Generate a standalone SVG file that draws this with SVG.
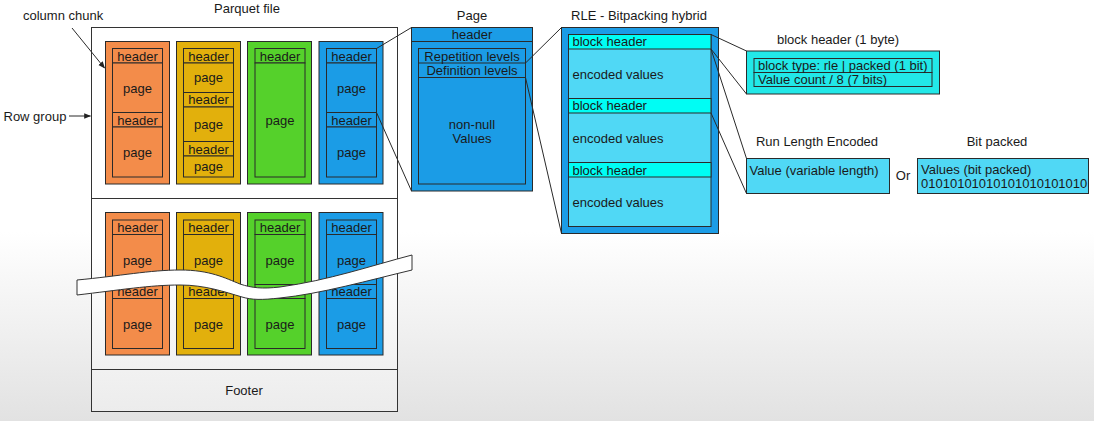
<svg xmlns="http://www.w3.org/2000/svg" width="1094" height="421" viewBox="0 0 1094 421">
<defs>
<linearGradient id="bg" x1="0" y1="0" x2="0" y2="421" gradientUnits="userSpaceOnUse">
<stop offset="0" stop-color="#ffffff"/>
<stop offset="0.55" stop-color="#ffffff"/>
<stop offset="1" stop-color="#e2e2e2"/>
</linearGradient>
<linearGradient id="fileBg" x1="0" y1="0" x2="0" y2="421" gradientUnits="userSpaceOnUse">
<stop offset="0" stop-color="#ffffff"/>
<stop offset="0.6" stop-color="#ffffff"/>
<stop offset="1" stop-color="#ebebeb"/>
</linearGradient>
<marker id="arr" viewBox="0 0 10 10" refX="9" refY="5" markerWidth="7" markerHeight="7" orient="auto-start-reverse" markerUnits="userSpaceOnUse">
<path d="M0,1 L10,5 L0,9 Z" fill="#222"/>
</marker>
</defs>
<style>
text { font-family: "Liberation Sans", Arial, sans-serif; font-size: 13px; fill: #1a1a1a; }
.c { text-anchor: middle; }
.box { stroke: #2a2a2a; stroke-width: 1; }
.orange { fill: #f38c4a; }
.yellow { fill: #e2b00c; }
.green { fill: #55d12b; }
.blue { fill: #1b9ce6; }
.light { fill: #50d8f5; }
.cyan { fill: #00fdf4; }
.cyan2 { fill: #22e8e8; }
.ln { stroke: #2a2a2a; stroke-width: 1; fill: none; }
</style>
<rect x="0" y="0" width="1094" height="421" fill="url(#bg)"/>

<g id="parquet-file">
<rect x="91.5" y="27.5" width="306" height="384" fill="url(#fileBg)" stroke="#333" stroke-width="1"/>
<line x1="91.5" y1="198.5" x2="397.5" y2="198.5" stroke="#333"/>
<line x1="91.5" y1="369.5" x2="397.5" y2="369.5" stroke="#333"/>
<text x="247" y="13" class="c">Parquet file</text>
<text x="244" y="395" class="c">Footer</text>
</g>

<g id="row-group-1">
<g id="col-orange-1">
<rect x="105.5" y="41.5" width="64" height="142.5" class="box orange"/>
<rect x="112.5" y="48.5" width="50" height="14.5" class="box orange"/>
<rect x="112.5" y="63" width="50" height="49.5" class="box orange"/>
<rect x="112.5" y="112.5" width="50" height="14.5" class="box orange"/>
<rect x="112.5" y="127" width="50" height="50" class="box orange"/>
<text x="137.5" y="60.5" class="c">header</text>
<text x="137.5" y="93" class="c">page</text>
<text x="137.5" y="124.5" class="c">header</text>
<text x="137.5" y="157" class="c">page</text>
</g>
<g id="col-yellow-1">
<rect x="176.5" y="41.5" width="64" height="142.5" class="box yellow"/>
<rect x="183.5" y="48.5" width="50" height="14.5" class="box yellow"/>
<rect x="183.5" y="63" width="50" height="29.5" class="box yellow"/>
<rect x="183.5" y="92.5" width="50" height="14.5" class="box yellow"/>
<rect x="183.5" y="107" width="50" height="34.5" class="box yellow"/>
<rect x="183.5" y="141.5" width="50" height="14.5" class="box yellow"/>
<rect x="183.5" y="156" width="50" height="21" class="box yellow"/>
<text x="208.5" y="60.5" class="c">header</text>
<text x="208.5" y="82" class="c">page</text>
<text x="208.5" y="104" class="c">header</text>
<text x="208.5" y="129" class="c">page</text>
<text x="208.5" y="153.5" class="c">header</text>
<text x="208.5" y="171" class="c">page</text>
</g>
<g id="col-green-1">
<rect x="247.5" y="41.5" width="64" height="142.5" class="box green"/>
<rect x="255" y="48.5" width="50" height="14.5" class="box green"/>
<rect x="255" y="63" width="50" height="114" class="box green"/>
<text x="280" y="60.5" class="c">header</text>
<text x="280" y="125" class="c">page</text>
</g>
<g id="col-blue-1">
<rect x="319" y="41.5" width="64" height="142.5" class="box blue"/>
<rect x="326.5" y="48.5" width="50" height="14.5" class="box blue"/>
<rect x="326.5" y="63" width="50" height="49.5" class="box blue"/>
<rect x="326.5" y="112.5" width="50" height="14.5" class="box blue"/>
<rect x="326.5" y="127" width="50" height="50" class="box blue"/>
<text x="351.5" y="60.5" class="c">header</text>
<text x="351.5" y="93" class="c">page</text>
<text x="351.5" y="124.5" class="c">header</text>
<text x="351.5" y="157" class="c">page</text>
</g>
</g>

<g id="row-group-2">
<g id="col-orange-2">
<rect x="105.5" y="212.5" width="64" height="142.5" class="box orange"/>
<rect x="112.5" y="220" width="50" height="14.5" class="box orange"/>
<rect x="112.5" y="234.5" width="50" height="50" class="box orange"/>
<rect x="112.5" y="284.5" width="50" height="14" class="box orange"/>
<rect x="112.5" y="298.5" width="50" height="50" class="box orange"/>
<text x="137.5" y="232" class="c">header</text>
<text x="137.5" y="264.5" class="c">page</text>
<text x="137.5" y="296" class="c">header</text>
<text x="137.5" y="328.5" class="c">page</text>
</g>
<g id="col-yellow-2">
<rect x="176.5" y="212.5" width="64" height="142.5" class="box yellow"/>
<rect x="183.5" y="220" width="50" height="14.5" class="box yellow"/>
<rect x="183.5" y="234.5" width="50" height="50" class="box yellow"/>
<rect x="183.5" y="284.5" width="50" height="14" class="box yellow"/>
<rect x="183.5" y="298.5" width="50" height="50" class="box yellow"/>
<text x="208.5" y="232" class="c">header</text>
<text x="208.5" y="264.5" class="c">page</text>
<text x="208.5" y="296" class="c">header</text>
<text x="208.5" y="328.5" class="c">page</text>
</g>
<g id="col-green-2">
<rect x="247.5" y="212.5" width="64" height="142.5" class="box green"/>
<rect x="255" y="220" width="50" height="14.5" class="box green"/>
<rect x="255" y="234.5" width="50" height="50" class="box green"/>
<rect x="255" y="284.5" width="50" height="14" class="box green"/>
<rect x="255" y="298.5" width="50" height="50" class="box green"/>
<text x="280" y="232" class="c">header</text>
<text x="280" y="264.5" class="c">page</text>
<text x="280" y="328.5" class="c">page</text>
</g>
<g id="col-blue-2">
<rect x="319" y="212.5" width="64" height="142.5" class="box blue"/>
<rect x="326.5" y="220" width="50" height="14.5" class="box blue"/>
<rect x="326.5" y="234.5" width="50" height="50" class="box blue"/>
<rect x="326.5" y="284.5" width="50" height="14" class="box blue"/>
<rect x="326.5" y="298.5" width="50" height="50" class="box blue"/>
<text x="351.5" y="232" class="c">header</text>
<text x="351.5" y="264.5" class="c">page</text>
<text x="351.5" y="296" class="c">header</text>
<text x="351.5" y="328.5" class="c">page</text>
</g>
</g>

<g id="break-wave">
<path d="M77,280 C120,276 150,270 180,270 C210,270 225,278 240,284 C252,288 262,289 280,287 C330,280 370,266 412,255 L412,270 C370,280 320,294 280,298 C262,300 252,300 242,297 C225,292 205,285 180,285 C150,285 120,290 77,295 Z" fill="#ffffff" stroke="#333" stroke-width="1"/>
</g>

<g id="page">
<text x="472" y="20" class="c">Page</text>
<rect x="411.5" y="27.5" width="121" height="163.5" class="box blue"/>
<line x1="411.5" y1="41.5" x2="532.5" y2="41.5" stroke="#2a2a2a"/>
<text x="472" y="39" class="c">header</text>
<rect x="418.5" y="48.5" width="107" height="135.5" class="box blue"/>
<line x1="418.5" y1="63" x2="525.5" y2="63" stroke="#2a2a2a"/>
<line x1="418.5" y1="77.5" x2="525.5" y2="77.5" stroke="#2a2a2a"/>
<text x="472" y="60.5" class="c">Repetition levels</text>
<text x="472" y="75" class="c">Definition levels</text>
<text x="472" y="128.5" class="c">non-null</text>
<text x="472" y="142.5" class="c">Values</text>
</g>

<g id="rle-hybrid">
<text x="639" y="20" class="c">RLE - Bitpacking hybrid</text>
<rect x="561.5" y="27.5" width="157" height="206" class="box blue"/>
<rect x="568.5" y="34.5" width="142.5" height="192" class="box light"/>
<rect x="568.5" y="34.5" width="142.5" height="14.5" class="box cyan"/>
<rect x="568.5" y="98.5" width="142.5" height="14.5" class="box cyan"/>
<rect x="568.5" y="162.5" width="142.5" height="14.5" class="box cyan"/>
<text x="572.5" y="46">block header</text>
<text x="572.5" y="78.5">encoded values</text>
<text x="572.5" y="110">block header</text>
<text x="572.5" y="142.5">encoded values</text>
<text x="572.5" y="174.5">block header</text>
<text x="572.5" y="206.5">encoded values</text>
</g>

<g id="block-header">
<text x="838" y="44" class="c">block header (1 byte)</text>
<rect x="746.5" y="51" width="193" height="43" class="box cyan2"/>
<rect x="754" y="58.5" width="178" height="14" class="box cyan2"/>
<rect x="754" y="72.5" width="178" height="14" class="box cyan2"/>
<text x="758" y="70">block type: rle | packed (1 bit)</text>
<text x="758" y="84">Value count / 8 (7 bits)</text>
</g>

<g id="run-length-encoded">
<text x="817" y="146" class="c">Run Length Encoded</text>
<rect x="746.5" y="158.5" width="143" height="35" class="box light"/>
<text x="749.5" y="174.5">Value (variable length)</text>
</g>

<text x="903" y="179.5" class="c">Or</text>

<g id="bit-packed">
<text x="997" y="146" class="c">Bit packed</text>
<rect x="917.5" y="158.5" width="171" height="35" class="box light"/>
<text x="921" y="173.5">Values (bit packed)</text>
<text x="921" y="188">01010101010101010101010</text>
</g>

<g id="labels">
<text x="23" y="20">column chunk</text>
<text x="3.5" y="120.5">Row group</text>
</g>

<g id="connectors">
<line x1="72" y1="28" x2="104.5" y2="68" class="ln" marker-end="url(#arr)"/>
<line x1="69" y1="116" x2="90.5" y2="116" class="ln" marker-end="url(#arr)"/>
<line x1="376.5" y1="48.5" x2="411.5" y2="27.5" class="ln"/>
<line x1="376.5" y1="112.5" x2="411.5" y2="191" class="ln"/>
<line x1="525.5" y1="63" x2="561.5" y2="27.5" class="ln"/>
<line x1="525.5" y1="77.5" x2="561.5" y2="233.5" class="ln"/>
<line x1="711" y1="34.5" x2="746.5" y2="51" class="ln"/>
<line x1="711" y1="49" x2="746.5" y2="94" class="ln"/>
<line x1="711" y1="49" x2="746.5" y2="158.5" class="ln"/>
<line x1="711" y1="113" x2="746.5" y2="193.5" class="ln"/>
</g>
</svg>
